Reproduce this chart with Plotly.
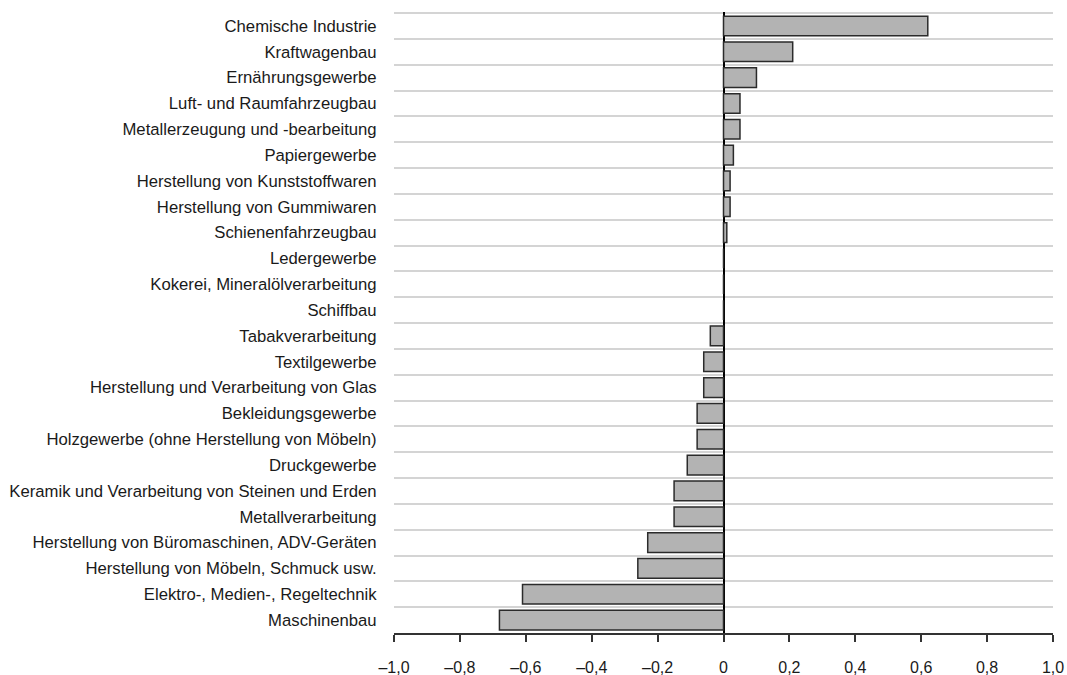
import plotly.graph_objects as go

categories = [
    "Chemische Industrie",
    "Kraftwagenbau",
    "Ernährungsgewerbe",
    "Luft- und Raumfahrzeugbau",
    "Metallerzeugung und -bearbeitung",
    "Papiergewerbe",
    "Herstellung von Kunststoffwaren",
    "Herstellung von Gummiwaren",
    "Schienenfahrzeugbau",
    "Ledergewerbe",
    "Kokerei, Mineralölverarbeitung",
    "Schiffbau",
    "Tabakverarbeitung",
    "Textilgewerbe",
    "Herstellung und Verarbeitung von Glas",
    "Bekleidungsgewerbe",
    "Holzgewerbe (ohne Herstellung von Möbeln)",
    "Druckgewerbe",
    "Keramik und Verarbeitung von Steinen und Erden",
    "Metallverarbeitung",
    "Herstellung von Büromaschinen, ADV-Geräten",
    "Herstellung von Möbeln, Schmuck usw.",
    "Elektro-, Medien-, Regeltechnik",
    "Maschinenbau",
]
values = [0.62, 0.21, 0.10, 0.05, 0.05, 0.03, 0.02, 0.02, 0.01, 0.0, 0.0, 0.0,
          -0.04, -0.06, -0.06, -0.08, -0.08, -0.11, -0.15, -0.15, -0.23, -0.26,
          -0.61, -0.68]
x_tickvals = [-1.0, -0.8, -0.6, -0.4, -0.2, 0, 0.2, 0.4, 0.6, 0.8, 1.0]
x_ticktext = ["–1,0", "–0,8", "–0,6", "–0,4", "–0,2", "0", "0,2", "0,4", "0,6", "0,8", "1,0"]

n = len(categories)
ypos = [n - 1 - i for i in range(n)]

FONT = "Liberation Sans"

fig = go.Figure(go.Bar(
    x=values, y=ypos, orientation="h",
    marker=dict(color="#b3b3b3", line=dict(color="#2b2b2b", width=1.5)),
    width=0.76,
    hoverinfo="skip",
))

fig.update_layout(
    width=1067, height=675,
    margin=dict(l=394, r=14, t=12, b=42),
    paper_bgcolor="white", plot_bgcolor="white",
    showlegend=False,
    font=dict(family=FONT, size=16, color="#1a1a1a"),
    xaxis=dict(
        range=[-1.0, 1.0],
        tickvals=x_tickvals, ticktext=x_ticktext,
        showgrid=False, automargin=False,
        zeroline=True, zerolinecolor="#000000", zerolinewidth=1.5,
        showline=True, linecolor="#333333", linewidth=1.5,
        ticks="outside", ticklen=7, tickwidth=1.5, tickcolor="#333333",
        ticklabelstandoff=12,
        tickfont=dict(family=FONT, size=16, color="#1a1a1a"),
        fixedrange=True,
    ),
    yaxis=dict(
        range=[-0.5, n - 0.46],
        tickvals=ypos, ticktext=categories,
        showgrid=False, zeroline=False, showline=False, automargin=False,
        ticks="outside", ticklen=13, tickcolor="rgba(0,0,0,0)",
        tickfont=dict(family=FONT, size=16.7, color="#1a1a1a"),
        minor=dict(tick0=0.5, dtick=1, showgrid=True, gridcolor="#d4d4d4", gridwidth=1.5, ticks=""),
        fixedrange=True,
    ),
)

# remove the default page margin so the figure sits at the window's top-left corner
fig.write_html(
    "out.html",
    config={"displayModeBar": False},
    post_script="document.body.style.margin='0';document.body.style.overflow='hidden';",
)
